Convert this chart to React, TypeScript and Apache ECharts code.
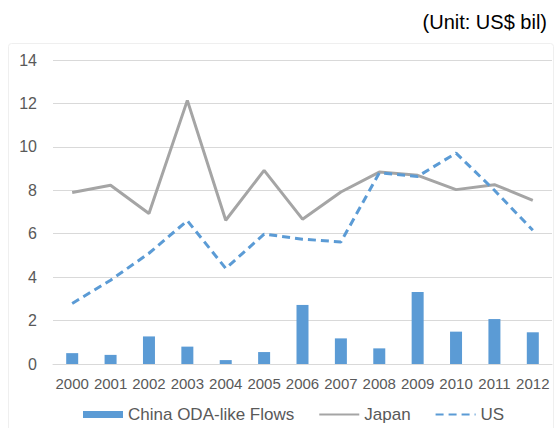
import React, { useEffect, useRef } from "react";
import * as echarts from "echarts";

const years = ["2000", "2001", "2002", "2003", "2004", "2005", "2006", "2007", "2008", "2009", "2010", "2011", "2012"];
const chinaOda = [0.5, 0.42, 1.27, 0.8, 0.18, 0.55, 2.72, 1.18, 0.72, 3.32, 1.49, 2.07, 1.46];
const japan = [7.9, 8.23, 6.93, 12.14, 6.62, 8.92, 6.67, 7.92, 8.84, 8.69, 8.03, 8.26, 7.54];
const us = [2.79, 3.86, 5.1, 6.6, 4.4, 5.98, 5.75, 5.62, 8.8, 8.64, 9.71, 8.0, 6.16];
const yTicks = { min: 0, max: 14, interval: 2 };

const FONT = "'Liberation Sans', Arial, sans-serif";
const TEXT = "#595959";
const BLUE = "#5B9BD5";
const GREY = "#A5A5A5";

export default function App() {
  const ref = useRef<HTMLDivElement>(null);
  useEffect(() => {
    if (!ref.current) return;
    const chart = echarts.init(ref.current, null, { renderer: "svg" });
    chart.setOption({
      animation: false,
      textStyle: { fontFamily: FONT },
      graphic: [
        {
          type: "rect",
          shape: { x: 8.5, y: 43.5, width: 545, height: 400, r: 3 },
          style: { fill: "none", stroke: "#EFEFEF", lineWidth: 1 },
          silent: true,
        },
        {
          type: "text",
          right: 11,
          top: 12,
          style: { text: "(Unit: US$ bil)", font: `20px ${FONT}`, fill: "#000000" },
        },
      ],
      grid: { left: 53, right: 6, top: 60, bottom: 64 },
      legend: {
        top: 406,
        left: 83,
        padding: 0,
        itemWidth: 40,
        itemHeight: 7,
        itemGap: 24,
        textStyle: { color: TEXT, fontSize: 17, fontFamily: FONT },
        data: [
          { name: "China ODA-like Flows", icon: "rect" },
          { name: "Japan", itemStyle: { opacity: 0 } },
          { name: "US", itemStyle: { opacity: 0 } },
        ],
      },
      xAxis: {
        type: "category",
        data: years,
        axisLine: { lineStyle: { color: "#D9D9D9" } },
        axisTick: { show: false },
        axisLabel: { color: TEXT, fontSize: 15, margin: 12, interval: 0, fontFamily: FONT },
      },
      yAxis: {
        type: "value",
        ...yTicks,
        axisLine: { show: false },
        axisTick: { show: false },
        axisLabel: { color: TEXT, fontSize: 16, margin: 16, fontFamily: FONT },
        splitLine: { lineStyle: { color: "#D9D9D9", width: 1 } },
      },
      series: [
        {
          name: "China ODA-like Flows",
          type: "bar",
          data: chinaOda,
          barWidth: 12,
          itemStyle: { color: BLUE },
        },
        {
          name: "Japan",
          type: "line",
          data: japan,
          symbol: "none",
          lineStyle: { color: GREY, width: 3 },
          itemStyle: { color: GREY },
        },
        {
          name: "US",
          type: "line",
          data: us,
          symbol: "none",
          lineStyle: { color: BLUE, width: 3, type: [8, 5] },
          itemStyle: { color: BLUE },
        },
      ],
    });
    return () => chart.dispose();
  }, []);
  return (
    <div
      ref={ref}
      style={{ position: "absolute", left: 0, top: 0, width: 558, height: 428 }}
    />
  );
}
